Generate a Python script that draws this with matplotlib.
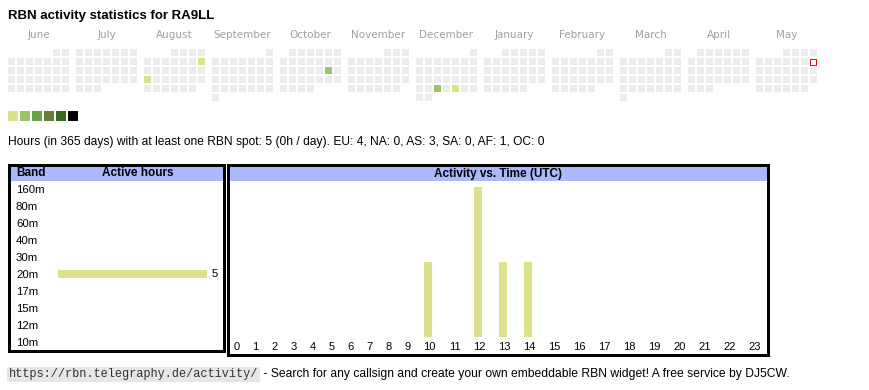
import calendar
import datetime as dt
import matplotlib.pyplot as plt
from matplotlib.patches import Rectangle

plt.rcParams['font.family'] = ['Liberation Sans', 'DejaVu Sans']

# DATA
callsign = "RA9LL"
month_names = ["June", "July", "August", "September", "October", "November",
               "December", "January", "February", "March", "April", "May"]
month_years = [2024, 2024, 2024, 2024, 2024, 2024, 2024, 2025, 2025, 2025, 2025, 2025]
month_nums = [6, 7, 8, 9, 10, 11, 12, 1, 2, 3, 4, 5]
active_days = ["2024-08-11", "2024-08-19", "2024-10-19", "2024-12-25", "2024-12-27"]
active_levels = [1, 1, 2, 2, 1]
today = "2025-05-11"
level_colors = ["#dbe28b", "#9dc36b", "#67a14a", "#687d3b", "#3a6a26", "#000000"]

bands = ["160m", "80m", "60m", "40m", "30m", "20m", "17m", "15m", "12m", "10m"]
band_hours = [0, 0, 0, 0, 0, 5, 0, 0, 0, 0]

hours = list(range(24))
hour_activity = [0, 0, 0, 0, 0, 0, 0, 0, 0, 0, 1, 0, 2, 1, 1, 0, 0, 0, 0, 0, 0, 0, 0, 0]

summary = ("Hours (in 365 days) with at least one RBN spot: 5 (0h / day). "
           "EU: 4, NA: 0, AS: 3, SA: 0, AF: 1, OC: 0")
url = "https://rbn.telegraphy.de/activity/"
footer = " - Search for any callsign and create your own embeddable RBN widget! A free service by DJ5CW."

HEAD = "#aab8fc"
EMPTY = "#ececec"
W, H = 870, 390


def pt(v):
    # pixels -> points at dpi 100
    return v * 0.72


fig = plt.figure(figsize=(W / 100, H / 100), dpi=100)
bg = fig.add_axes([0, 0, 1, 1])
bg.set_xlim(0, W)
bg.set_ylim(H, 0)
bg.axis('off')

bg.text(8, 16, f"RBN activity statistics for {callsign}", fontsize=9.5,
        fontweight='bold', va='center', ha='left')

# calendar, one block per month, weeks as rows, Monday first
level_of = dict(zip(active_days, active_levels))
for m, (name, yr, mo) in enumerate(zip(month_names, month_years, month_nums)):
    x0 = 8 + 68 * m
    bg.text(x0 + 30.5, 35, name, ha='center', va='center', color='#a0a0a0',
            fontsize=7.5, family='DejaVu Sans')
    first = dt.date(yr, mo, 1).weekday()
    ndays = calendar.monthrange(yr, mo)[1]
    for d in range(1, ndays + 1):
        k = first + d - 1
        key = dt.date(yr, mo, d).isoformat()
        x = x0 + 9 * (k % 7)
        y = 49 + 9 * (k // 7)
        if key == today:
            bg.add_patch(Rectangle((x + 0.5, y + 0.5), 6, 6, facecolor='white',
                                   edgecolor='red', lw=pt(1)))
        else:
            c = level_colors[level_of[key] - 1] if key in level_of else EMPTY
            bg.add_patch(Rectangle((x, y), 7, 7, facecolor=c, lw=0))

# legend swatches
for i, c in enumerate(level_colors):
    bg.add_patch(Rectangle((8 + 12 * i, 110.5), 10, 10, facecolor=c, lw=0))

bg.text(8, 142, summary, fontsize=8.65, va='center', ha='left')

# table frames + header bands
for x0, x1, y1 in [(8, 225.7, 352.7), (227, 770, 356)]:
    bg.add_patch(Rectangle((x0 + 3, 166), x1 - x0 - 6, 15, facecolor=HEAD, lw=0))
    bg.add_patch(Rectangle((x0 + 1.5, 164.5), x1 - x0 - 3, y1 - 163 - 3, fill=False,
                           edgecolor='black', lw=pt(3), joinstyle='miter'))

bg.text(16, 173.5, "Band", fontsize=8.5, fontweight='bold', va='center', ha='left')
bg.text(138, 173.5, "Active hours", fontsize=8.5, fontweight='bold', va='center', ha='center')
bg.text(498.5, 173.5, "Activity vs. Time (UTC)", fontsize=8.5, fontweight='bold',
        va='center', ha='center')

# band bars
axb = fig.add_axes([58 / W, (H - 350.5) / H, 149 / W, 170 / H])
axb.patch.set_alpha(0)
axb.barh(range(len(bands)), band_hours, height=0.44, color=level_colors[0])
axb.set_xlim(0, max(band_hours))
axb.set_ylim(len(bands) - 0.5, -0.5)
for s in axb.spines.values():
    s.set_visible(False)
axb.set_xticks([])
axb.set_yticks(range(len(bands)))
axb.set_yticklabels(bands, fontsize=8.2, ha='left')
axb.tick_params(axis='y', length=0, pad=pt(42))
for i, v in enumerate(band_hours):
    if v:
        axb.annotate(str(v), (v, i), xytext=(pt(5), 0), textcoords='offset points',
                     va='center', ha='left', fontsize=8.2, annotation_clip=False)

# hour bars, column widths follow the label width like the html table
widths = [13 + 6 * len(str(h)) for h in hours]
centers = []
c = 236.7
for i, w in enumerate(widths):
    if i:
        c += (widths[i - 1] + w) / 2
    centers.append(c)

axh = fig.add_axes([227 / W, (H - 337) / H, 543 / W, 150 / H])
axh.patch.set_alpha(0)
axh.bar([c - 1.5 for c in centers], hour_activity, width=8, color=level_colors[0])
axh.set_xlim(227, 770)
axh.set_ylim(0, max(hour_activity))
for s in axh.spines.values():
    s.set_visible(False)
axh.set_yticks([])
axh.set_xticks(centers)
axh.set_xticklabels([str(h) for h in hours], fontsize=8)
axh.tick_params(axis='x', length=0, pad=pt(4.5))

# footer
bg.text(9, 374.5, url, fontsize=8.6, family='Liberation Mono', color='#333333',
        va='center', ha='left',
        bbox=dict(boxstyle='square,pad=0.15', facecolor='#e6e6e6', edgecolor='none'))
bg.text(260, 374.5, footer, fontsize=8.7, family=['Liberation Sans Narrow', 'Liberation Sans'],
        va='center', ha='left')

fig.savefig("out.png", dpi=100)
